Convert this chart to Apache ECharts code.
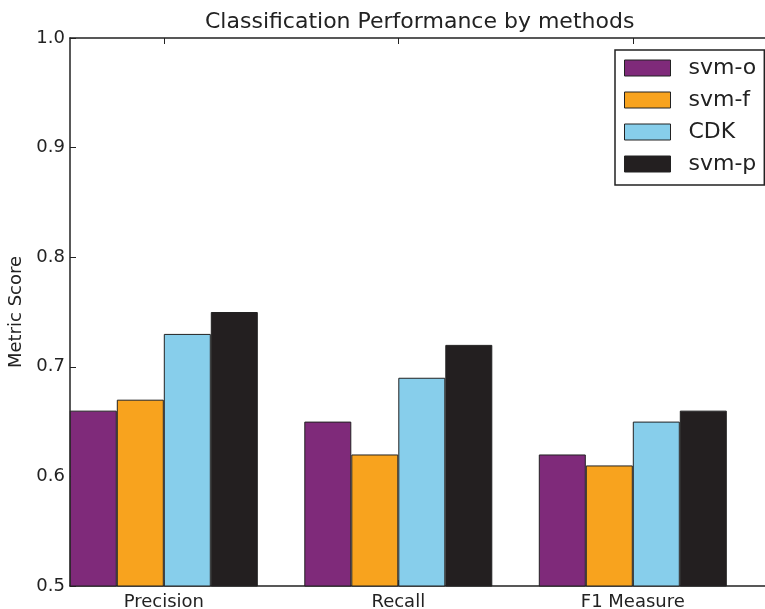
<!DOCTYPE html>
<html>
<head>
<meta charset="utf-8">
<script src="https://cdn.jsdelivr.net/npm/echarts@6/dist/echarts.min.js"></script>
<style>html,body{margin:0;padding:0;background:#fff;}#c{width:765px;height:609px;}</style>
</head>
<body>
<div id="c"></div>
<script>
const categories = ['Precision', 'Recall', 'F1 Measure'];
const groupCenters = [0.4, 1.4, 2.4];
const seriesNames = ['svm-o', 'svm-f', 'CDK', 'svm-p'];
const svmO = [0.66, 0.65, 0.62];
const svmF = [0.67, 0.62, 0.61];
const cdk = [0.73, 0.69, 0.65];
const svmP = [0.75, 0.72, 0.66];
const yTicks = [0.5, 0.6, 0.7, 0.8, 0.9, 1.0];
const colors = ['#7F2A7A', '#F8A31E', '#87CEEB', '#231F20'];

const allValues = [svmO, svmF, cdk, svmP];
const FONT = 'DejaVu Sans';
const AX = '#222222';

const chart = echarts.init(document.getElementById('c'), null, {renderer: 'canvas'});
const series = allValues.map((vals, i) => ({
  name: seriesNames[i],
  type: 'bar',
  barWidth: 47,
  barGap: '0%',
  data: vals.map((v, j) => [groupCenters[j], v]),
  itemStyle: {color: colors[i], borderColor: '#222222', borderWidth: 1},
  emphasis: {disabled: true}
}));

chart.setOption({
  animation: false,
  backgroundColor: '#ffffff',
  title: {
    text: 'Classification Performance by methods',
    left: 200, top: 6,
    textStyle: {fontFamily: FONT, fontSize: 22, fontWeight: 'normal', color: '#222222'}
  },
  legend: {
    data: seriesNames,
    orient: 'vertical',
    left: 615, top: 50,
    icon: 'rect',
    itemWidth: 46, itemHeight: 16, itemGap: 10,
    padding: [7, 8, 10, 9],
    borderColor: '#222222', borderWidth: 1.5,
    backgroundColor: '#ffffff',
    itemStyle: {borderColor: '#222222', borderWidth: 1},
    textStyle: {fontFamily: FONT, fontSize: 22, color: '#222222', lineHeight: 22, padding: [0, 0, 0, 13]}
  },
  grid: {left: 70, top: 38, width: 703.5, height: 548, containLabel: false, outerBoundsMode: 'none'},
  xAxis: [{
    type: 'value', min: 0, max: 3,
    axisLine: {show: true, onZero: false, lineStyle: {color: AX, width: 1.5}},
    axisTick: {show: true, inside: true, length: 6, customValues: groupCenters, lineStyle: {color: AX}},
    axisLabel: {
      customValues: groupCenters, margin: 7,
      fontFamily: FONT, fontSize: 18, color: '#222222',
      formatter: v => { const k = groupCenters.findIndex(c => Math.abs(c - v) < 1e-6); return k >= 0 ? categories[k] : ''; }
    },
    splitLine: {show: false}
  }, {
    type: 'value', min: 0, max: 3, position: 'top',
    axisLine: {show: true, onZero: false, lineStyle: {color: AX, width: 1.5}},
    axisTick: {show: true, inside: true, length: 6, customValues: groupCenters, lineStyle: {color: AX}},
    axisLabel: {show: false},
    splitLine: {show: false}
  }],
  yAxis: {
    type: 'value', min: 0.5, max: 1.0, interval: 0.1,
    name: 'Metric Score', nameLocation: 'middle', nameGap: 43, nameRotate: 90,
    nameTextStyle: {fontFamily: FONT, fontSize: 18, color: '#222222'},
    axisLine: {show: true, onZero: false, lineStyle: {color: AX, width: 1.5}},
    axisTick: {show: true, inside: true, length: 6, lineStyle: {color: AX}},
    axisLabel: {
      margin: 5, fontFamily: FONT, fontSize: 18, color: '#222222',
      formatter: v => { const k = yTicks.findIndex(t => Math.abs(t - v) < 1e-6); return k >= 0 ? yTicks[k].toFixed(1) : ''; }
    },
    splitLine: {show: false}
  },
  series: series
});
</script>
</body>
</html>
